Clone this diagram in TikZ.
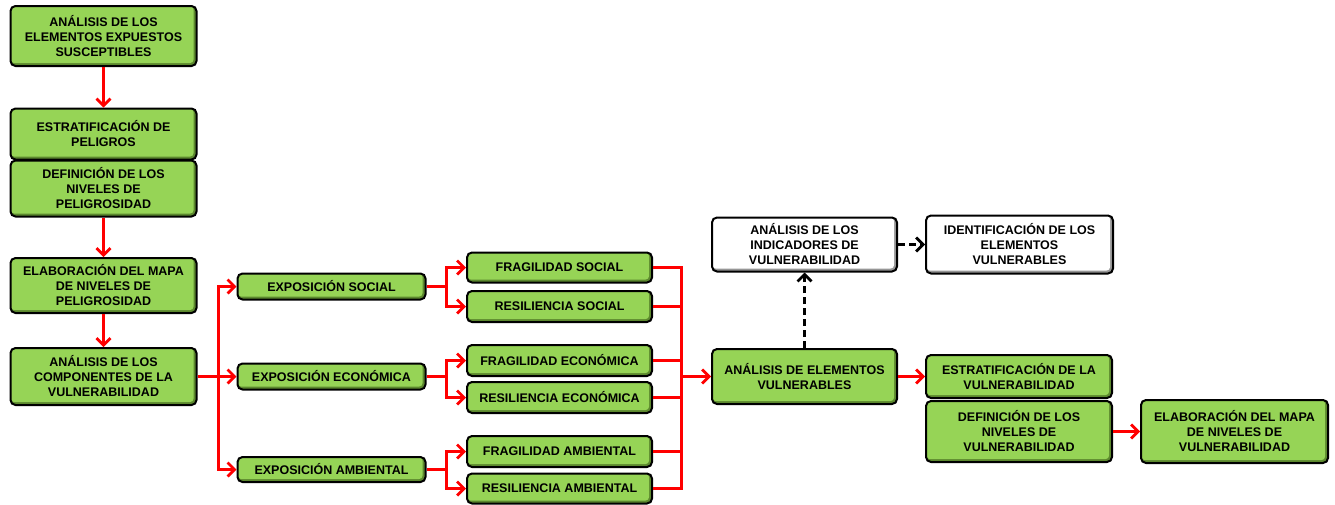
\documentclass[tikz,border=0pt]{standalone}
\usepackage{fontspec}
\setmainfont{Liberation Sans}
\usepackage{xcolor}
\usepackage{tikz}
\usetikzlibrary{arrows.meta,positioning,calc}

\definecolor{boxgreen}{RGB}{150,212,86}
\definecolor{boxdark}{RGB}{92,136,46}
\definecolor{boxgray}{RGB}{150,150,150}
\definecolor{pipered}{RGB}{255,0,0}

\begin{document}
\begin{tikzpicture}[
   x=1pt,y=-1pt,
   every node/.style={font=\fontsize{12.5}{15}\selectfont\bfseries},
   blk/.style={draw=black,line width=2pt,rounded corners=5pt,fill=boxdark,
               align=center,inner sep=0pt,
               path picture={\fill[boxgreen,rounded corners=4pt]
                 (path picture bounding box.north west) rectangle
                 ([shift={(-2.8pt,2.8pt)}]path picture bounding box.south east);}},
   wblk/.style={blk,fill=boxgray,
               path picture={\fill[white,rounded corners=4pt]
                 (path picture bounding box.north west) rectangle
                 ([shift={(-2.8pt,2.8pt)}]path picture bounding box.south east);}},
   rpipe/.style={draw=pipered,line width=3pt,line join=miter,
                 -{Straight Barb[length=7pt,width=14pt,line width=2.8pt]}},
   rline/.style={draw=pipered,line width=3pt,line join=miter},
   dpipe/.style={draw=black,line width=3pt,dash pattern=on 7pt off 4pt,
                 -{Straight Barb[length=7pt,width=14pt,line width=2.8pt]}}
]
\useasboundingbox (0,0) rectangle (1335,504);

% =========== peligro column ============
\node[blk,minimum width=186,minimum height=60] (expu) at (103.5,36)
   {ANÁLISIS DE LOS\\ELEMENTOS EXPUESTOS\\SUSCEPTIBLES};
\node[blk,minimum width=186,minimum height=51] (estp) at (103.5,134)
   {ESTRATIFICACIÓN DE\\PELIGROS};
\node[blk,minimum width=186,minimum height=56] (defp) at (103.5,188.5)
   {DEFINICIÓN DE LOS\\NIVELES DE\\PELIGROSIDAD};
\node[blk,minimum width=186,minimum height=55] (mapp) at (103.5,285.5)
   {ELABORACIÓN DEL MAPA\\DE NIVELES DE\\PELIGROSIDAD};
\node[blk,minimum width=186,minimum height=57] (comp) at (103.5,376.5)
   {ANÁLISIS DE LOS\\COMPONENTES DE LA\\VULNERABILIDAD};

\draw[rpipe] (expu) -- (estp);
\draw[rpipe] (defp) -- (mapp);
\draw[rpipe] (mapp) -- (comp);

% =========== exposicion ============
\node[blk,minimum width=188,minimum height=26] (expsoc) at (331.5,286.5) {EXPOSICIÓN SOCIAL};
\node[blk,minimum width=188,minimum height=26] (expeco) at (331.5,376.5) {EXPOSICIÓN ECONÓMICA};
\node[blk,minimum width=188,minimum height=25] (expamb) at (331.5,469.5) {EXPOSICIÓN AMBIENTAL};

\foreach \n in {expsoc,expeco,expamb}
  \draw[rpipe] (comp.east) -- ++(21,0) |- (\n);

% =========== fragilidad / resiliencia ============
\node[blk,minimum width=185,minimum height=30] (fragsoc) at (559.5,267.5) {FRAGILIDAD SOCIAL};
\node[blk,minimum width=185,minimum height=31] (ressoc)  at (559.5,306.5) {RESILIENCIA SOCIAL};
\node[blk,minimum width=185,minimum height=31] (frageco) at (559.5,360.5) {FRAGILIDAD ECONÓMICA};
\node[blk,minimum width=185,minimum height=31] (reseco)  at (559.5,397.5) {RESILIENCIA ECONÓMICA};
\node[blk,minimum width=185,minimum height=31] (fragamb) at (559.5,451.5) {FRAGILIDAD AMBIENTAL};
\node[blk,minimum width=185,minimum height=30] (resamb)  at (559.5,488.5) {RESILIENCIA AMBIENTAL};

\draw[rpipe] (expsoc.east) -- ++(20,0) |- (fragsoc);
\draw[rpipe] (expsoc.east) -- ++(20,0) |- (ressoc);
\draw[rpipe] (expeco.east) -- ++(20,0) |- (frageco);
\draw[rpipe] (expeco.east) -- ++(20,0) |- (reseco);
\draw[rpipe] (expamb.east) -- ++(20,0) |- (fragamb);
\draw[rpipe] (expamb.east) -- ++(20,0) |- (resamb);

% =========== elementos vulnerables ============
\node[blk,minimum width=185,minimum height=55] (aev) at (804.5,376.5)
   {ANÁLISIS DE ELEMENTOS\\VULNERABLES};
\node[wblk,minimum width=185,minimum height=54] (indic) at (804.5,244.5)
   {ANÁLISIS DE LOS\\INDICADORES DE\\VULNERABILIDAD};
\node[wblk,minimum width=187,minimum height=58] (ident) at (1019.5,244.5)
   {IDENTIFICACIÓN DE LOS\\ELEMENTOS\\VULNERABLES};

\coordinate (mrg) at (681.5,376.5);
\foreach \n in {fragsoc,ressoc,frageco,reseco,fragamb,resamb}
  \draw[rline] (\n.east) -| (mrg);
\draw[rpipe] (mrg) -- (aev);

\draw[dpipe] (aev) -- (indic);
\draw[dpipe] (indic) -- (ident);

% =========== estratificacion / mapa ============
\node[blk,minimum width=186,minimum height=43] (estv) at (1019,376.5)
   {ESTRATIFICACIÓN DE LA\\VULNERABILIDAD};
\node[blk,minimum width=186,minimum height=61] (defv) at (1019,431.5)
   {DEFINICIÓN DE LOS\\NIVELES DE\\VULNERABILIDAD};
\node[blk,minimum width=187,minimum height=63] (mapv) at (1234.5,431.5)
   {ELABORACIÓN DEL MAPA\\DE NIVELES DE\\VULNERABILIDAD};

\draw[rpipe] (aev) -- (estv);
\draw[rpipe] (defv) -- (mapv);

\end{tikzpicture}
\end{document}
